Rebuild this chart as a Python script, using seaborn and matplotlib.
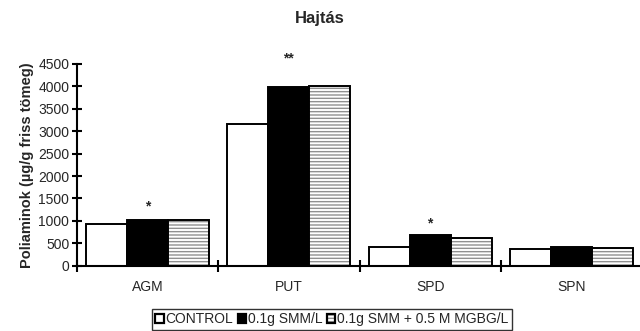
import numpy as np
import pandas as pd
import seaborn as sns
import matplotlib.pyplot as plt
from matplotlib.patches import Patch, Rectangle

categories = ['AGM', 'PUT', 'SPD', 'SPN']
groups = ['CONTROL', '0.1g SMM/L', '0.1g SMM + 0.5 M MGBG/L']
control = [925, 3160, 410, 370]
smm = [1020, 3985, 675, 425]
smm_mgbg = [1030, 4005, 610, 390]
stars = ['*', '**', '*', '']
star_y = [1330, 4630, 950, 0]

df = pd.DataFrame({'cat': categories * 3,
                   'group': np.repeat(groups, 4),
                   'value': control + smm + smm_mgbg})

sns.set_style('white')
plt.rcParams['font.family'] = ['Liberation Sans', 'DejaVu Sans']

fig = plt.figure(figsize=(6.4, 3.31), dpi=100)
ax = fig.add_axes([77 / 640, 1 - 265.7 / 331, 565 / 640, 201.8 / 331])

sns.barplot(data=df, x='cat', y='value', hue='group', order=categories,
            hue_order=groups, palette=['white', 'black', 'white'],
            width=0.87, gap=0, edgecolor='black', linewidth=1.4,
            saturation=1, legend=False, ax=ax)

# hatched series: grey horizontal lines, black outline drawn on top
for p in ax.containers[2]:
    p.set_hatch('-----')
    p.set_edgecolor('#909090')
    p.set_linewidth(0)
    ax.add_patch(Rectangle(p.get_xy(), p.get_width(), p.get_height(),
                           fill=False, edgecolor='black', linewidth=1.4, zorder=3))

for i, s in enumerate(stars):
    if s:
        p = ax.containers[1][i]
        ax.text(p.get_x() + p.get_width() / 2, star_y[i], s, clip_on=False,
                ha='center', va='center', fontsize=10, fontweight='bold')

ax.set_ylim(0, 4500)
ax.set_xlim(-0.5, 3.5)
ax.set_yticks(range(0, 4501, 500))
ax.set_xticks(np.arange(-0.5, 3.6, 1), minor=True)
for s in ['top', 'right']:
    ax.spines[s].set_visible(False)
for s in ['left', 'bottom']:
    ax.spines[s].set_linewidth(1.5)
    ax.spines[s].set_color('black')
ax.tick_params(axis='x', which='major', bottom=False, pad=7, labelsize=10)
ax.tick_params(axis='x', which='minor', bottom=True, length=8, width=1.5,
               direction='inout', color='black')
ax.tick_params(axis='y', left=True, length=7, width=1.5, direction='inout',
               color='black', labelsize=10, pad=2)
ax.set_xlabel('')
ax.set_ylabel('Poliaminok (µg/g friss tömeg)', fontsize=10.5, fontweight='bold', labelpad=3)
fig.text(0.5, 1 - 19 / 331, 'Hajtás', ha='center', va='center', fontsize=12, fontweight='bold')

outline = Patch(facecolor='none', edgecolor='black', linewidth=1.6)
handles = [Patch(facecolor='white', edgecolor='black', linewidth=1.6),
           Patch(facecolor='black', edgecolor='black', linewidth=1.6),
           (Patch(facecolor='white', edgecolor='#909090', hatch='-----', linewidth=0), outline)]
leg = fig.legend(handles, groups, loc='upper center', bbox_to_anchor=(332 / 640, 1 - 309 / 331),
                 ncol=3, fontsize=10, frameon=True, fancybox=False, edgecolor='black',
                 handlelength=0.6, handleheight=0.6, handletextpad=0.15,
                 columnspacing=0.3, borderpad=0.25, borderaxespad=0)
leg.get_frame().set_linewidth(1.0)

fig.savefig('out.png', dpi=100)
